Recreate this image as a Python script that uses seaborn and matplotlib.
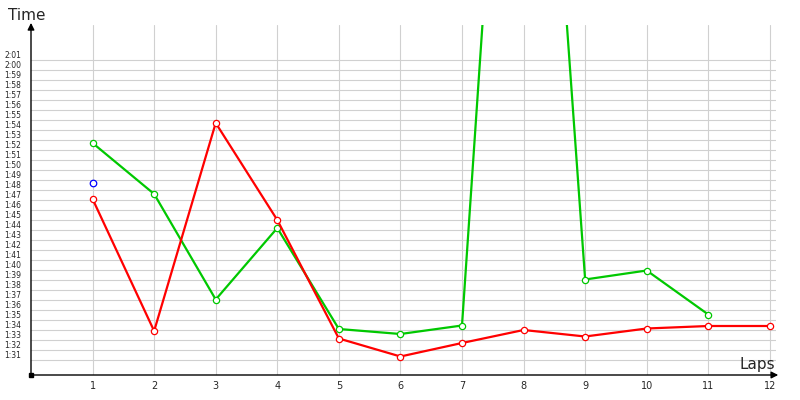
import numpy as np
import pandas as pd
import matplotlib
matplotlib.use("Agg")
import matplotlib.pyplot as plt
from matplotlib.transforms import ScaledTranslation
import seaborn as sns

# lap times in seconds
laps_red = [1, 2, 3, 4, 5, 6, 7, 8, 9, 10, 11, 12]
red_times = [107.1, 93.9, 114.7, 105.0, 93.15, 91.35, 92.7, 94.0, 93.35, 94.15, 94.4, 94.4]

laps_green = [1, 2, 3, 4, 5, 6, 7, 8, 9, 10, 11]
green_times = [112.7, 107.6, 97.05, 104.2, 94.1, 93.6, 94.45, 185.0, 99.05, 99.95, 95.55]

laps_blue = [1]
blue_times = [108.7]

ytick_values = list(range(91, 122))
ytick_labels = ["%d:%02d" % (v // 60, v % 60) for v in ytick_values]
xtick_values = list(range(1, 13))

red_df = pd.DataFrame({"lap": laps_red, "time": red_times})
green_df = pd.DataFrame({"lap": laps_green, "time": green_times})
blue_df = pd.DataFrame({"lap": laps_blue, "time": blue_times})

sns.set_style("white")
plt.rcParams["font.family"] = ["DejaVu Sans"]

fig = plt.figure(figsize=(8, 4), dpi=100)
ax = fig.add_axes([31 / 800, 25 / 400, 745 / 800, 350 / 400])

ax.set_xlim(0, 12.1)
ax.set_ylim(89.5, 124.5)

ax.set_xticks(xtick_values)
ax.set_yticks(ytick_values)
ax.set_yticklabels(ytick_labels)
ax.grid(True, color="#d0d0d0", lw=0.8)
ax.set_axisbelow(True)

sns.lineplot(data=green_df, x="lap", y="time", color="#00c800", lw=1.6,
             marker="o", markersize=4.5, markerfacecolor="white",
             markeredgecolor="#00c800", markeredgewidth=0.9, ax=ax, zorder=3)
sns.lineplot(data=red_df, x="lap", y="time", color="#ff0000", lw=1.6,
             marker="o", markersize=4.5, markerfacecolor="white",
             markeredgecolor="#ff0000", markeredgewidth=0.9, ax=ax, zorder=4)
sns.scatterplot(data=blue_df, x="lap", y="time", marker="o", s=22,
                facecolor="white", edgecolor="#0000ff", linewidth=0.9, ax=ax, zorder=4)

ax.set_xlabel("")
ax.set_ylabel("")
for s in ax.spines.values():
    s.set_visible(False)

ax.tick_params(axis="x", length=0, pad=4.5, labelsize=7)
ax.tick_params(axis="y", length=0, pad=19.4, labelsize=5.5)
offset = ScaledTranslation(0, 5 / 100, fig.dpi_scale_trans)
for lbl in ax.get_yticklabels():
    lbl.set_horizontalalignment("left")
    lbl.set_transform(lbl.get_transform() + offset)

# axis arrows
ax.annotate("", xy=(1.003, 0), xytext=(0, 0), xycoords="axes fraction",
            arrowprops=dict(arrowstyle="-|>", color="black", lw=1.0,
                            mutation_scale=10, shrinkA=0, shrinkB=0))
ax.annotate("", xy=(0, 1.006), xytext=(0, 0), xycoords="axes fraction",
            arrowprops=dict(arrowstyle="-|>", color="black", lw=1.0,
                            mutation_scale=10, shrinkA=0, shrinkB=0))
ax.plot([0], [0], "s", color="black", ms=3, transform=ax.transAxes, clip_on=False)

fig.text(8 / 800, 1 - 15 / 400, "Time", fontsize=11, va="center", ha="left")
fig.text(775 / 800, 1 - 365 / 400, "Laps", fontsize=11, va="center", ha="right")

fig.savefig("out.png", dpi=100)
